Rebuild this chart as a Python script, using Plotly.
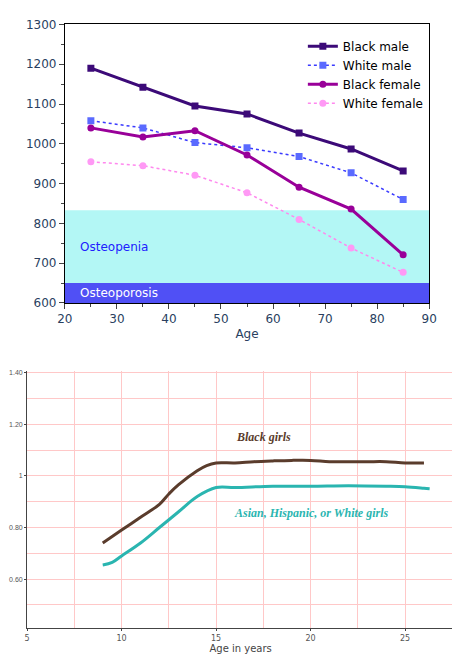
import plotly.graph_objects as go

ages = [25, 35, 45, 55, 65, 75, 85]
black_male = [1190, 1142, 1095, 1075, 1027, 987, 932]
white_male = [1058, 1040, 1003, 990, 968, 927, 860]
black_female = [1040, 1017, 1033, 972, 891, 836, 721]
white_female = [955, 945, 921, 877, 810, 738, 677]
osteopenia = [650, 833]
osteoporosis = [600, 650]

bg_age = [9, 10, 11, 12, 12.5, 13, 14, 14.5, 15, 16, 17, 18, 19, 20, 21, 22, 23, 24, 25, 26]
bg_val = [0.74, 0.79, 0.84, 0.89, 0.93, 0.965, 1.02, 1.04, 1.05, 1.05, 1.055, 1.058, 1.06, 1.06, 1.055, 1.055, 1.055, 1.055, 1.05, 1.05]
ow_age = [9, 9.5, 10, 11, 12, 13, 14, 15, 16, 18, 20, 22, 24, 25, 26, 26.3]
ow_val = [0.655, 0.665, 0.69, 0.74, 0.80, 0.86, 0.92, 0.955, 0.955, 0.96, 0.96, 0.962, 0.96, 0.958, 0.952, 0.95]

fig = go.Figure()
F = "DejaVu Sans"

fig.add_trace(go.Scatter(x=ages, y=black_male, name="Black male", mode="lines+markers",
    line=dict(color="#3c0a78", width=3), marker=dict(symbol="square", size=7), xaxis="x", yaxis="y"))
fig.add_trace(go.Scatter(x=ages, y=white_male, name="White male", mode="lines+markers",
    line=dict(color="#3a3aff", width=1.5, dash="dot"), marker=dict(symbol="square", size=7, color="#5a6aff"), xaxis="x", yaxis="y"))
fig.add_trace(go.Scatter(x=ages, y=black_female, name="Black female", mode="lines+markers",
    line=dict(color="#990099", width=3), marker=dict(symbol="circle", size=7), xaxis="x", yaxis="y"))
fig.add_trace(go.Scatter(x=ages, y=white_female, name="White female", mode="lines+markers",
    line=dict(color="#ff88ee", width=1.5, dash="dot"), marker=dict(symbol="circle", size=7, color="#ff99f5"), xaxis="x", yaxis="y"))

fig.add_shape(type="rect", xref="x", yref="y", x0=20, x1=90, y0=osteopenia[0], y1=osteopenia[1],
    fillcolor="#b3f7f5", line_width=0, layer="below")
fig.add_shape(type="rect", xref="x", yref="y", x0=20, x1=90, y0=osteoporosis[0], y1=osteoporosis[1],
    fillcolor="#5050f5", line_width=0, layer="below")
fig.add_annotation(x=22.5, y=740, xref="x", yref="y", text="Osteopenia", showarrow=False,
    xanchor="left", font=dict(family=F, size=12, color="#2020ff"))
fig.add_annotation(x=22.5, y=625, xref="x", yref="y", text="Osteoporosis", showarrow=False,
    xanchor="left", font=dict(family=F, size=12, color="white"))

fig.add_trace(go.Scatter(x=bg_age, y=bg_val, mode="lines", line=dict(color="#5a3c2c", width=3, shape="spline"),
    showlegend=False, xaxis="x2", yaxis="y2"))
fig.add_trace(go.Scatter(x=ow_age, y=ow_val, mode="lines", line=dict(color="#2ab5b0", width=3, shape="spline"),
    showlegend=False, xaxis="x2", yaxis="y2"))
fig.add_annotation(x=17.5, y=1.15, xref="x2", yref="y2", text="<i><b>Black girls</b></i>", showarrow=False,
    font=dict(family="Liberation Serif", size=12, color="#5a3c2c"))
fig.add_annotation(x=20, y=0.855, xref="x2", yref="y2", text="<i><b>Asian, Hispanic, or White girls</b></i>", showarrow=False,
    font=dict(family="Liberation Serif", size=12, color="#2ab5b0"))

fig.update_layout(
    width=460, height=657, margin=dict(l=0, r=0, t=0, b=0, autoexpand=False),
    paper_bgcolor="white", plot_bgcolor="white",
    legend=dict(x=0.641, y=0.964, xanchor="left", yanchor="top", bgcolor="rgba(0,0,0,0)",
                font=dict(family=F, size=12, color="black"), tracegroupgap=0, itemwidth=30),
    xaxis=dict(domain=[0.1236, 0.9156], anchor="y", range=[20, 90], dtick=10, showgrid=False,
               ticks="outside", ticklen=5, showline=True, linecolor="black", mirror=True,
               title=dict(text="Age", font=dict(family=F, size=12), standoff=4),
               tickfont=dict(family=F, size=12), zeroline=False, automargin=False,
               minor=dict(dtick=5, ticks="outside", ticklen=3)),
    yaxis=dict(domain=[0.551, 0.975], anchor="x", range=[600, 1300], dtick=100, showgrid=False,
               ticks="outside", ticklen=5, showline=True, linecolor="black", mirror=True,
               tickfont=dict(family=F, size=12), zeroline=False, automargin=False,
               minor=dict(dtick=50, ticks="outside", ticklen=3)),
    xaxis2=dict(domain=[0.0416, 0.97], anchor="y2", range=[5, 27.6], tickvals=[5, 10, 15, 20, 25],
                showgrid=False, showline=True, linecolor="#444", zeroline=False, automargin=False,
                ticks="outside", ticklen=2, tickfont=dict(family=F, size=8, color="#555"),
                title=dict(text="Age in years", font=dict(family=F, size=10, color="#444"), standoff=0),
                minor=dict(dtick=2.5, showgrid=True, gridcolor="#ffc8c8", gridwidth=1)),
    yaxis2=dict(domain=[0.056, 0.447], anchor="x2", range=[0.41, 1.405],
                tickvals=[0.6, 0.8, 1.0, 1.2, 1.4], ticktext=["0.60", "0.80", "1", "1.20", "1.40"],
                showgrid=False, showline=True, linecolor="#444", zeroline=False, automargin=False,
                ticks="outside", ticklen=2, ticklabelstandoff=0,
                tickfont=dict(family="Liberation Sans Narrow, Liberation Sans", size=7, color="#555"),
                minor=dict(dtick=0.1, tick0=0.4, showgrid=True, gridcolor="#ffc8c8", gridwidth=1)),
)
fig.write_html("out.html")
